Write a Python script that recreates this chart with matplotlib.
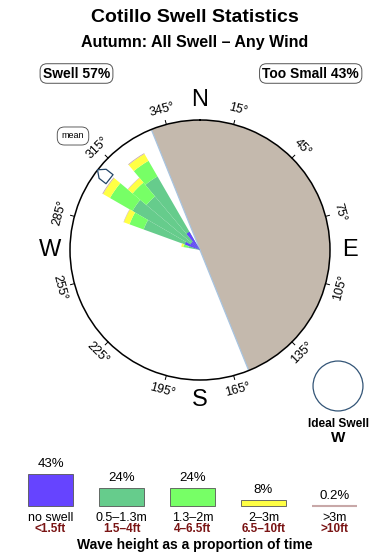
import numpy as np
import matplotlib
matplotlib.use('Agg')
import matplotlib.pyplot as plt
from matplotlib.markers import MarkerStyle
from matplotlib.path import Path
from matplotlib.transforms import Affine2D
from matplotlib.patches import Circle

plt.rcParams['font.family'] = ['Liberation Sans', 'DejaVu Sans']

# ---------------- data ----------------
title = "Cotillo Swell Statistics"
subtitle = "Autumn: All Swell – Any Wind"
swell_pct = 57
too_small_pct = 43

directions = [285, 295, 305, 315, 325]          # bin centres (deg)
bin_width = 10
band_no_swell = [0, 16, 11, 11, 21]
band_05_13 = [12, 60, 78, 70, 85]
band_13_2 = [5, 15, 26, 18, 18]
band_2_3 = [2, 6, 8, 6, 8]
band_gt3 = [0, 0.4, 0.8, 0.4, 0.8]
rose_max = 130

shadow_start, shadow_end = 338, 158
mean_direction = 308
ideal_direction = "W"

legend_pcts = [43, 24, 24, 8, 0.2]
legend_labels_m = ["no swell", "0.5–1.3m", "1.3–2m", "2–3m", ">3m"]
legend_labels_ft = ["<1.5ft", "1.5–4ft", "4–6.5ft", "6.5–10ft", ">10ft"]
band_colors = ['#6644ff', '#66cc8c', '#77ff66', '#ffff44', '#c8a8a8']
tick_bearings = list(range(15, 360, 30))
compass = {'N': 0, 'E': 90, 'S': 180, 'W': 270}

# ---------------- layout ----------------
W, H = 390, 560
fig = plt.figure(figsize=(W / 100, H / 100), dpi=100)
fig.patch.set_facecolor('white')

cx, cy, R = 200, 250, 130
ax = fig.add_axes([(cx - R) / W, (H - (cy + R)) / H, 2 * R / W, 2 * R / H], projection='polar')
ax.set_theta_zero_location('N')
ax.set_theta_direction(-1)
ax.set_ylim(0, rose_max)
ax.set_xticks([])
ax.set_yticks([])
ax.grid(False)
ax.spines['polar'].set_linewidth(1.1)
ax.set_facecolor('white')

# land shadow
sw = (shadow_end - shadow_start) % 360
sc = (shadow_start + sw / 2) % 360
ax.bar(np.deg2rad(sc), rose_max, width=np.deg2rad(sw), bottom=0,
       color='#c4b9ad', linewidth=0, zorder=1)
for b in (shadow_start, shadow_end):
    ax.plot([np.deg2rad(b)] * 2, [0, rose_max], color='#a8c4e0', lw=0.9, zorder=2)

# petals
th = np.deg2rad(directions)
wd = np.deg2rad(bin_width)
bottom = np.zeros(len(directions))
for vals, col in zip([band_05_13, band_13_2, band_2_3, band_gt3], band_colors[1:]):
    v = np.array(vals, dtype=float)
    ax.bar(th, v, width=wd, bottom=bottom, color=col, linewidth=0, zorder=3)
    bottom = bottom + v
ax.bar(th, band_no_swell, width=wd, bottom=0, color=band_colors[0], linewidth=0, zorder=4)

# ticks and tick labels
for b in tick_bearings:
    t = np.deg2rad(b)
    ax.plot([t, t], [rose_max, rose_max + 4], color='black', lw=0.7, clip_on=False)
    rot = -b
    if 90 < b < 270:
        rot += 180
    ax.text(t, rose_max + 15, f"{b}°", rotation=rot, rotation_mode='anchor',
            ha='center', va='center', fontsize=9, clip_on=False)

for letter, b in compass.items():
    ax.text(np.deg2rad(b), rose_max + 20, letter, ha='center', va='center',
            fontsize=17, clip_on=False)

# mean arrow
verts = [(0, 1), (-0.75, 0.15), (-0.75, -1), (0.75, -1), (0.75, 0.15), (0, 1)]
codes = [Path.MOVETO] + [Path.LINETO] * 4 + [Path.CLOSEPOLY]
arrow_marker = MarkerStyle(Path(verts, codes), transform=Affine2D().rotate_deg(-mean_direction))
ax.plot([np.deg2rad(mean_direction)], [rose_max - 7], marker=arrow_marker, markersize=11,
        mfc='white', mec='#224466', mew=0.9, zorder=6, clip_on=False)

# ---------------- texts ----------------
fig.text(0.5, 1 - 18 / H, title, ha='center', va='center', fontsize=14, fontweight='bold')
fig.text(0.5, 1 - 43 / H, subtitle, ha='center', va='center', fontsize=11.5, fontweight='bold')
box = dict(boxstyle='round,pad=0.2,rounding_size=0.5', fc='white', ec='#555555', lw=0.7)
fig.text(76.5 / W, 1 - 73.5 / H, f"Swell {swell_pct}%", ha='center', va='center',
         fontsize=10, fontweight='bold', bbox=box)
fig.text(310.7 / W, 1 - 73.5 / H, f"Too Small {too_small_pct}%", ha='center', va='center',
         fontsize=10, fontweight='bold', bbox=box)
fig.text(73 / W, 1 - 136 / H, "mean", ha='center', va='center', fontsize=6.5,
         bbox=dict(boxstyle='round,pad=0.5,rounding_size=0.8', fc='white', ec='#444444', lw=0.6))

# ideal swell circle
icx, icy, ir = 338, 386, 26
ax3 = fig.add_axes([(icx - ir) / W, (H - (icy + ir)) / H, 2 * ir / W, 2 * ir / H])
ax3.axis('off')
ax3.add_patch(Circle((0.5, 0.5), 0.48, transform=ax3.transAxes, fc='white', ec='#335577', lw=0.9))
fig.text(icx / W, 1 - 424 / H, "Ideal Swell", ha='center', va='center', fontsize=8.6, fontweight='bold')
fig.text(icx / W, 1 - 438 / H, ideal_direction, ha='center', va='center', fontsize=11, fontweight='bold')

# ---------------- bottom legend ----------------
step = 71
first = 50.5
ax2 = fig.add_axes([(first - step / 2) / W, (H - 506) / H, 5 * step / W, 37.5 / H])
ax2.set_xlim(-0.5, 4.5)
ax2.set_ylim(0, 50)
ax2.axis('off')
xs = np.arange(len(legend_pcts))
edge = ['#555555', '#555555', '#555555', '#555555', band_colors[4]]
lws = [0.6, 0.6, 0.6, 0.6, 1.5]
ax2.bar(xs, legend_pcts, width=0.634, color=band_colors, edgecolor=edge, linewidth=lws, clip_on=False)
for i, p in enumerate(legend_pcts):
    ax2.annotate(f"{p:g}%", (i, p), xytext=(0, 4), textcoords='offset pixels',
                 ha='center', va='bottom', fontsize=9.5)
    ax2.annotate(legend_labels_m[i], (i, 0), xytext=(0, -12), textcoords='offset pixels',
                 ha='center', va='center', fontsize=9)
    ax2.annotate(legend_labels_ft[i], (i, 0), xytext=(0, -23), textcoords='offset pixels',
                 ha='center', va='center', fontsize=8.5, color='#7a1414', fontweight='bold')
fig.text(194.5 / W, 1 - 545 / H, "Wave height as a proportion of time", ha='center', va='center',
         fontsize=10, fontweight='bold')

fig.savefig('out.png', dpi=100)
